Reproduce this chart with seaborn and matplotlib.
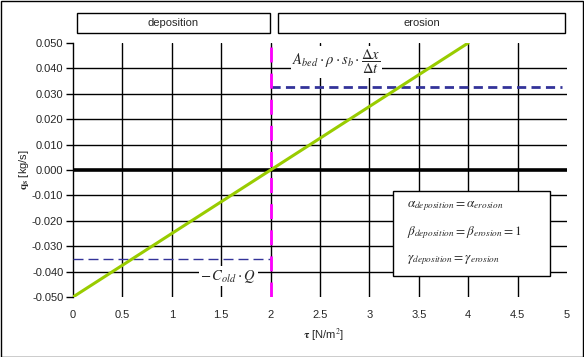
import matplotlib
matplotlib.use("Agg")
import matplotlib.pyplot as plt
import matplotlib.patches as mpatches
import seaborn as sns
import pandas as pd

# ---- data ----
tau = [0.0, 4.0]
qs = [-0.05, 0.05]
threshold = 2.0
erosion_level = 0.0325
erosion_extent = [2.0, 4.95]
deposition_level = -0.035
deposition_extent = [0.0, 2.0]
x_ticks = [0, 0.5, 1, 1.5, 2, 2.5, 3, 3.5, 4, 4.5, 5]
x_tick_labels = ["0", "0.5", "1", "1.5", "2", "2.5", "3", "3.5", "4", "4.5", "5"]
y_ticks = [-0.05, -0.04, -0.03, -0.02, -0.01, 0.0, 0.01, 0.02, 0.03, 0.04, 0.05]
y_tick_labels = ["-0.050", "-0.040", "-0.030", "-0.020", "-0.010", "0.000",
                 "0.010", "0.020", "0.030", "0.040", "0.050"]
regions = ["deposition", "erosion"]

sns.set_style("white")
plt.rcParams["font.family"] = ["Liberation Sans", "DejaVu Sans"]
plt.rcParams["mathtext.fontset"] = "stix"

W, H = 584, 357
fig = plt.figure(figsize=(W / 100, H / 100), dpi=100)
fig.patch.set_facecolor("white")
ax = fig.add_axes([73 / W, 1 - 297 / H, (567 - 73) / W, (297 - 43) / H])

# grid lines (manual, skipping the outer limits)
for yv in y_ticks[1:-1]:
    ax.axhline(yv, color="black", lw=2.6 if yv == 0 else 1.0, zorder=1)
for xv in x_ticks[1:-1]:
    ax.axvline(xv, color="black", lw=1.0, zorder=1)

df = pd.DataFrame({"tau": tau, "qs": qs})
sns.lineplot(data=df, x="tau", y="qs", ax=ax, color="#99CC00", lw=2.2, zorder=4)

ax.hlines(erosion_level, erosion_extent[0], erosion_extent[1], color="#333399",
          lw=2.0, linestyles=(0, (3.3, 1.9)), zorder=3)
ax.hlines(deposition_level, deposition_extent[0], deposition_extent[1], color="#333399",
          lw=1.0, linestyles=(0, (7.2, 3.6)), zorder=3)
ax.axvline(threshold, color="#FF00FF", lw=2.0, linestyle=(0, (5.4, 4.0)), zorder=5)

ax.set_xlim(0, 5)
ax.set_ylim(-0.05, 0.05)
ax.set_xticks(x_ticks)
ax.set_xticklabels(x_tick_labels)
ax.set_yticks(y_ticks)
ax.set_yticklabels(y_tick_labels)
ax.tick_params(axis="y", direction="out", length=5, width=1, color="black",
               labelsize=8, pad=2, left=True)
ax.tick_params(axis="x", length=0, labelsize=8, pad=9)
for s in ["top", "right", "bottom"]:
    ax.spines[s].set_visible(False)
ax.spines["left"].set_color("black")
ax.spines["left"].set_linewidth(1.0)
ax.set_xlabel("")
ax.set_ylabel("")

# annotations
ax.text(2.665, 0.0425, r"$A_{bed}\cdot\rho\cdot s_b\cdot\dfrac{\Delta x}{\Delta t}$",
        fontsize=10.5, ha="center", va="center", zorder=6,
        bbox=dict(facecolor="white", edgecolor="none", pad=1))
ax.text(1.57, -0.0418, r"$-\,C_{old}\cdot Q$", fontsize=10.5, ha="center", va="center",
        zorder=6, bbox=dict(facecolor="white", edgecolor="none", pad=1))

box = mpatches.Rectangle((3.24, -0.0418), 1.59, 0.0335, facecolor="white",
                         edgecolor="black", lw=1.0, zorder=6)
ax.add_patch(box)
eqs = [r"$\alpha_{deposition}=\alpha_{erosion}$",
       r"$\beta_{deposition}=\beta_{erosion}=1$",
       r"$\gamma_{deposition}=\gamma_{erosion}$"]
for i, e in enumerate(eqs):
    ax.text(3.38, -0.0143 - i * 0.0105, e, fontsize=9.5, ha="left", va="center", zorder=7)

# region header boxes
for (x0, x1), name in zip([(77, 270), (278, 565)], regions):
    fig.add_artist(mpatches.Rectangle((x0 / W, 1 - 33 / H), (x1 - x0) / W, 20 / H,
                                      transform=fig.transFigure, facecolor="white",
                                      edgecolor="black", lw=1.0))
    fig.text((x0 + x1) / 2 / W, 1 - 23.5 / H, name, ha="center", va="center", fontsize=8)

# axis labels
fig.text(24 / W, 1 - 170 / H, r"$\mathbf{q}_{\mathbf{s}}$ [kg/s]", rotation=90,
         ha="center", va="center", fontsize=8)
fig.text(303 / W, 1 - 335 / H, r"$\mathbf{\tau}$ [N/m$^2$]", ha="left", va="center",
         fontsize=8)

# outer frame
fig.add_artist(mpatches.Rectangle((0.5 / W, 0.5 / H), (W - 1.5) / W, (H - 1.5) / H,
                                  transform=fig.transFigure, facecolor="none",
                                  edgecolor="black", lw=1.0))

fig.savefig("out.png", dpi=100)
